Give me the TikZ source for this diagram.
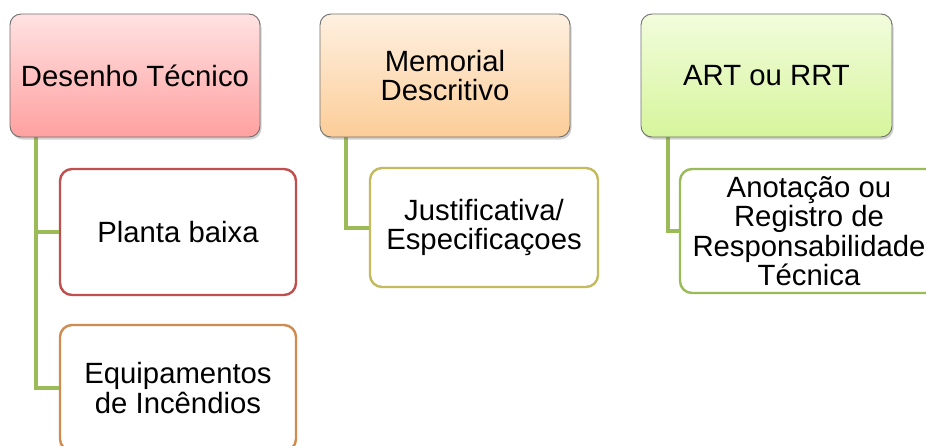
\documentclass[tikz,border=0pt]{standalone}
\usepackage{fontspec}
\setmainfont{Liberation Sans}
\usetikzlibrary{shadows,calc}
\definecolor{conncol}{HTML}{9BBB59}
\definecolor{redb}{HTML}{C0504D}
\definecolor{orb}{HTML}{D08B50}
\definecolor{olb}{HTML}{C4BB5E}
\definecolor{grb}{HTML}{9BBB59}
\definecolor{topgray}{HTML}{6F6F6F}
\tikzset{
  x=1pt,y=-1pt,
  lbl/.style={font=\fontsize{29.3}{29.5}\selectfont, align=center, inner sep=0pt},
  topbox/.style={lbl, rectangle, rounded corners=11pt, draw=topgray, line width=0.9pt,
     minimum width=250pt, minimum height=123pt,
     drop shadow={shadow xshift=1.5pt, shadow yshift=-2.5pt, opacity=0.3, fill=black!60}},
  childbox/.style={lbl, rectangle, rounded corners=12pt, fill=white, line width=2.4pt,
     minimum height=126pt},
  conn/.style={draw=conncol, line width=4pt}
}
\begin{document}
\begin{tikzpicture}
\useasboundingbox (0,0) rectangle (926,445);
% connector anchors
\coordinate (k1) at (36,135);
\coordinate (k2) at (346,135);
\coordinate (k3) at (668,135);
% child boxes
\node[childbox, draw=redb, minimum width=236pt] (p1) at (178,232) {Planta baixa};
\node[childbox, draw=orb, minimum width=236pt] (e1) at (178,388) {Equipamentos\\de Incêndios};
\node[childbox, draw=olb, minimum width=228pt, minimum height=119pt] (j1) at (484,227.5) {Justificativa/\\Especificaçoes};
\node[childbox, draw=grb, minimum width=258pt, minimum height=124pt] (a1) at (809,231) {Anotação ou\\Registro de\\Responsabilidade\\Técnica};
% connectors
\draw[conn] (k1) |- (p1.west);
\draw[conn] (k1) |- (e1.west);
\draw[conn] (k2) |- (j1.west);
\draw[conn] (k3) |- (a1.west);
% top boxes
\node[topbox, top color={rgb,255:red,255;green,226;blue,226}, bottom color={rgb,255:red,255;green,160;blue,160}] (b1) at (135,75.5) {Desenho Técnico};
\node[topbox, top color={rgb,255:red,254;green,240;blue,224}, bottom color={rgb,255:red,252;green,205;blue,152}] (b2) at (445,75.5) {Memorial\\Descritivo};
\node[topbox, minimum width=251pt, top color={rgb,255:red,242;green,252;blue,220}, bottom color={rgb,255:red,214;green,245;blue,156}] (b3) at (766.5,75.5) {ART ou RRT};
\end{tikzpicture}
\end{document}
